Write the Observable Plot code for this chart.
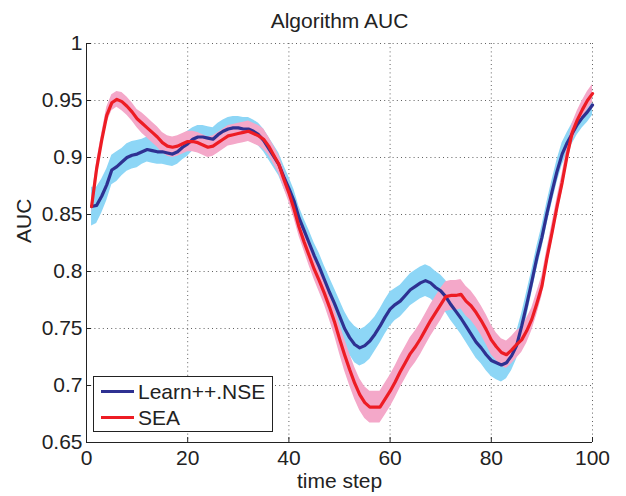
<!DOCTYPE html>
<html>
<head>
<meta charset="utf-8">
<script src="https://cdn.jsdelivr.net/npm/d3@7"></script>
<script src="https://cdn.jsdelivr.net/npm/@observablehq/plot@0.6"></script>
<style>
html, body { margin: 0; padding: 0; background: #fff; }
#wrap { position: relative; width: 626px; height: 496px; font-family: "Liberation Sans", Arial, sans-serif; color: #222; }
#legend { position: absolute; left: 93px; top: 376px; width: 180px; height: 56px; border: 1px solid #222; background: #fff; box-sizing: border-box; }
.sw { position: absolute; left: 7px; width: 33px; height: 3px; }
.lb { position: absolute; left: 44px; font-size: 21px; line-height: 21px; white-space: nowrap; }
</style>
</head>
<body>
<div id="wrap"></div>
<script>
const title = "Algorithm AUC";
const xLabel = "time step";
const yLabel = "AUC";
const seriesNames = ["Learn++.NSE", "SEA"];
const xTicks = [0, 20, 40, 60, 80, 100];
const yTicks = [0.65, 0.7, 0.75, 0.8, 0.85, 0.9, 0.95, 1];

const learnNSE = [
  0.857, 0.858, 0.866, 0.876, 0.889, 0.892, 0.896, 0.900, 0.902, 0.903,
  0.905, 0.907, 0.906, 0.905, 0.905, 0.904, 0.903, 0.905, 0.909, 0.912,
  0.916, 0.918, 0.918, 0.917, 0.916, 0.920, 0.923, 0.925, 0.926, 0.926,
  0.925, 0.925, 0.923, 0.920, 0.915, 0.908, 0.901, 0.894, 0.883, 0.873,
  0.862, 0.847, 0.836, 0.825, 0.814, 0.804, 0.793, 0.782, 0.772, 0.761,
  0.750, 0.742, 0.736, 0.733, 0.735, 0.739, 0.745, 0.752, 0.760, 0.767,
  0.771, 0.774, 0.779, 0.784, 0.787, 0.790, 0.792, 0.790, 0.786, 0.783,
  0.778, 0.771, 0.765, 0.759, 0.752, 0.745, 0.738, 0.733, 0.727, 0.722,
  0.720, 0.718, 0.720, 0.726, 0.735, 0.752, 0.771, 0.791, 0.812, 0.830,
  0.851, 0.870, 0.888, 0.903, 0.913, 0.921, 0.929, 0.935, 0.940, 0.946
];
const learnNSESpread = [
  0.017, 0.016, 0.015, 0.014, 0.013, 0.013, 0.012, 0.012, 0.012, 0.012,
  0.011, 0.011, 0.011, 0.011, 0.011, 0.011, 0.011, 0.011, 0.011, 0.011,
  0.010, 0.010, 0.010, 0.010, 0.010, 0.010, 0.010, 0.010, 0.010, 0.010,
  0.010, 0.010, 0.010, 0.010, 0.010, 0.010, 0.010, 0.010, 0.010, 0.010,
  0.010, 0.010, 0.010, 0.011, 0.011, 0.012, 0.012, 0.013, 0.013, 0.014,
  0.015, 0.015, 0.016, 0.016, 0.016, 0.016, 0.015, 0.015, 0.015, 0.015,
  0.014, 0.014, 0.014, 0.014, 0.014, 0.014, 0.014, 0.014, 0.014, 0.014,
  0.014, 0.014, 0.014, 0.014, 0.014, 0.014, 0.014, 0.014, 0.014, 0.014,
  0.015, 0.015, 0.014, 0.013, 0.012, 0.011, 0.011, 0.010, 0.010, 0.010,
  0.010, 0.010, 0.010, 0.010, 0.009, 0.009, 0.009, 0.009, 0.009, 0.009
];
const sea = [
  0.857, 0.890, 0.915, 0.937, 0.948, 0.951, 0.949, 0.945, 0.940, 0.934,
  0.930, 0.926, 0.922, 0.918, 0.913, 0.910, 0.909, 0.910, 0.912, 0.914,
  0.914, 0.913, 0.911, 0.909, 0.910, 0.913, 0.916, 0.919, 0.920, 0.921,
  0.922, 0.923, 0.921, 0.919, 0.916, 0.910, 0.902, 0.894, 0.881, 0.869,
  0.855, 0.839, 0.826, 0.814, 0.802, 0.792, 0.781, 0.769, 0.756, 0.741,
  0.727, 0.714, 0.702, 0.692, 0.685, 0.681, 0.681, 0.681, 0.688, 0.695,
  0.703, 0.712, 0.720, 0.728, 0.734, 0.741, 0.749, 0.757, 0.764, 0.771,
  0.778, 0.779, 0.779, 0.780, 0.774, 0.770, 0.764, 0.757, 0.749, 0.740,
  0.734, 0.729, 0.727, 0.731, 0.736, 0.740, 0.748, 0.758, 0.772, 0.787,
  0.812, 0.834, 0.857, 0.878, 0.902, 0.922, 0.933, 0.942, 0.950, 0.956
];
const seaSpread = [
  0.006, 0.006, 0.006, 0.007, 0.007, 0.007, 0.008, 0.008, 0.008, 0.008,
  0.009, 0.009, 0.009, 0.009, 0.009, 0.009, 0.009, 0.009, 0.009, 0.009,
  0.009, 0.009, 0.009, 0.009, 0.009, 0.009, 0.009, 0.009, 0.009, 0.009,
  0.009, 0.009, 0.009, 0.009, 0.009, 0.008, 0.008, 0.008, 0.008, 0.008,
  0.008, 0.008, 0.008, 0.009, 0.009, 0.010, 0.010, 0.011, 0.012, 0.013,
  0.014, 0.014, 0.014, 0.014, 0.014, 0.014, 0.014, 0.014, 0.014, 0.014,
  0.014, 0.014, 0.014, 0.014, 0.014, 0.014, 0.014, 0.014, 0.014, 0.014,
  0.013, 0.013, 0.013, 0.013, 0.013, 0.013, 0.013, 0.013, 0.013, 0.013,
  0.012, 0.012, 0.012, 0.012, 0.012, 0.011, 0.011, 0.010, 0.010, 0.009,
  0.008, 0.008, 0.008, 0.008, 0.008, 0.008, 0.008, 0.008, 0.008, 0.008
];

const colors = { nseLine: "#2E3192", nseBand: "#8DD6F6", seaLine: "#ED1C24", seaBand: "#F4A8C9" };

const toRows = (vals, spread) => vals.map((v, i) => ({ t: i + 1, v, lo: v - spread[i], hi: v + spread[i] }));
const nseRows = toRows(learnNSE, learnNSESpread);
const seaRows = toRows(sea, seaSpread);

const gridStyle = { stroke: "#444", strokeOpacity: 0.85, strokeDasharray: "1,3.2", strokeWidth: 1 };

const chart = Plot.plot({
  width: 626,
  height: 496,
  marginLeft: 86,
  marginRight: 34,
  marginTop: 43,
  marginBottom: 54,
  style: { fontFamily: "Liberation Sans, Arial, sans-serif", fontSize: "21px", color: "#222", background: "white", overflow: "visible" },
  x: { domain: [0, 100], label: null },
  y: { domain: [0.65, 1], label: null },
  marks: [
    Plot.gridX(xTicks.slice(1), gridStyle),
    Plot.gridY(yTicks.slice(1), gridStyle),
    Plot.areaY(nseRows, { x: "t", y1: "lo", y2: "hi", fill: colors.nseBand }),
    Plot.areaY(seaRows, { x: "t", y1: "lo", y2: "hi", fill: colors.seaBand }),
    Plot.line(nseRows, { x: "t", y: "v", stroke: colors.nseLine, strokeWidth: 3.2 }),
    Plot.line(seaRows, { x: "t", y: "v", stroke: colors.seaLine, strokeWidth: 3.2 }),
    Plot.ruleX([xTicks[0]], { stroke: "#222", strokeWidth: 1 }),
    Plot.ruleY([yTicks[0]], { stroke: "#222", strokeWidth: 1 }),
    Plot.axisX(xTicks, { tickSize: -5, tickPadding: 13, tickFormat: d => String(d), stroke: "#222", fill: "#222" }),
    Plot.axisY(yTicks, { tickSize: -5, tickPadding: 9, tickFormat: d => String(+d.toFixed(2)), stroke: "#222", fill: "#222" }),
    Plot.text([title], { frameAnchor: "top", dy: -16, lineAnchor: "bottom", fontSize: 21, fill: "#222" }),
    Plot.text([xLabel], { frameAnchor: "bottom", dy: 45, lineAnchor: "bottom", fontSize: 21, fill: "#222" }),
    Plot.text([yLabel], { frameAnchor: "left", dx: -62, rotate: -90, fontSize: 21, fill: "#222" })
  ]
});

const wrap = document.getElementById("wrap");
wrap.appendChild(chart);

const legend = document.createElement("div");
legend.id = "legend";
const lineColors = [colors.nseLine, colors.seaLine];
seriesNames.forEach((name, i) => {
  const sw = document.createElement("div");
  sw.className = "sw";
  sw.style.top = (13 + i * 26) + "px";
  sw.style.background = lineColors[i];
  const lb = document.createElement("div");
  lb.className = "lb";
  lb.style.top = (4 + i * 26) + "px";
  lb.textContent = name;
  legend.appendChild(sw);
  legend.appendChild(lb);
});
wrap.appendChild(legend);
</script>
</body>
</html>
